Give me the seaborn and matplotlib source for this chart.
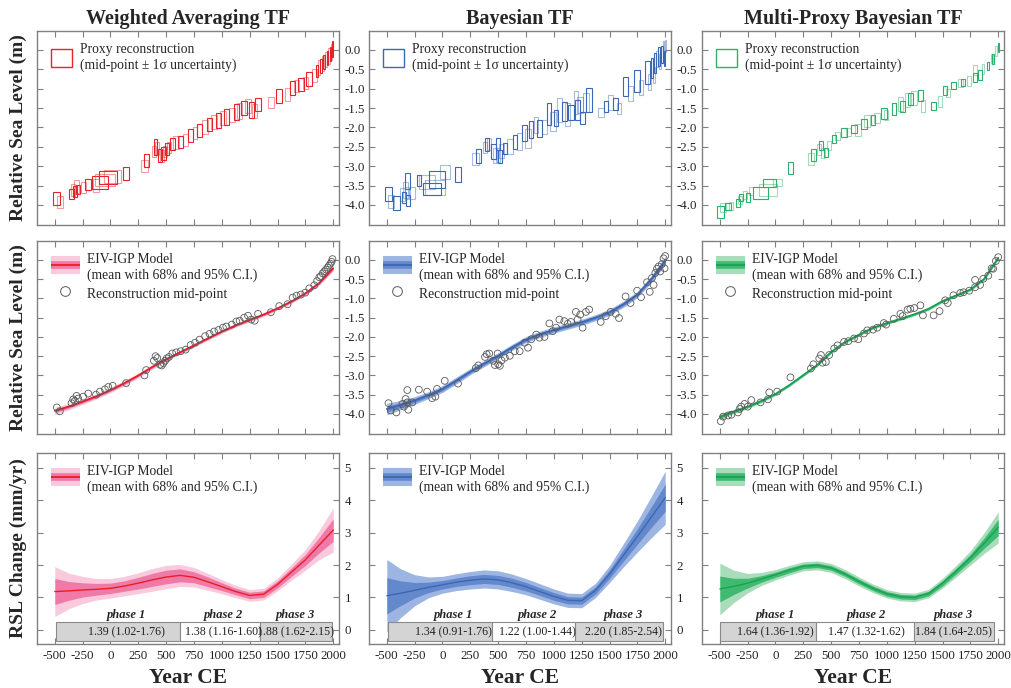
import numpy as np
import pandas as pd
import matplotlib
matplotlib.use('Agg')
import matplotlib.pyplot as plt
import seaborn as sns
from matplotlib.patches import Patch
from matplotlib.lines import Line2D
from matplotlib.legend_handler import HandlerTuple

# ---- proxy reconstructions (mid-point, 1 sigma) ----
wa_age = [-482, -455, -350, -335, -320, -305, -290, -245, -200, -130,
          -95, -50, -20, 20, 140, 305, 320, 390, 405, 420,
          445, 460, 475, 490, 505, 525, 555, 590, 630, 675,
          720, 760, 800, 850, 890, 930, 970, 1010, 1040, 1090,
          1130, 1160, 1200, 1235, 1265, 1295, 1325, 1440, 1515, 1590,
          1635, 1670, 1710, 1750, 1785, 1830, 1855, 1875, 1890, 1905,
          1920, 1935, 1950, 1962, 1975, 1985, 1993]
wa_rsl = [-3.83, -3.93, -3.72, -3.62, -3.66, -3.53, -3.6, -3.55, -3.47, -3.5,
          -3.42, -3.36, -3.3, -3.27, -3.2, -3.0, -2.86, -2.62, -2.5, -2.55,
          -2.72, -2.74, -2.68, -2.62, -2.56, -2.52, -2.43, -2.4, -2.37, -2.33,
          -2.21, -2.15, -2.07, -1.98, -1.92, -1.86, -1.82, -1.76, -1.73, -1.68,
          -1.6, -1.58, -1.5, -1.45, -1.55, -1.58, -1.4, -1.36, -1.2, -1.15,
          -0.98, -0.93, -0.9, -0.85, -0.74, -0.66, -0.55, -0.45, -0.42, -0.35,
          -0.3, -0.25, -0.2, -0.15, -0.1, -0.05, 0.02]
wa_age_err = [30, 25, 20, 18, 20, 20, 18, 22, 25, 30,
              70, 90, 80, 75, 30, 30, 22, 20, 15, 20,
              20, 18, 20, 18, 20, 20, 25, 25, 25, 25,
              25, 20, 25, 25, 20, 25, 25, 25, 20, 25,
              25, 20, 25, 25, 20, 20, 25, 25, 25, 25,
              20, 25, 25, 20, 25, 22, 12, 10, 8, 8,
              8, 7, 7, 6, 6, 5, 4]
wa_rsl_err = [0.17, 0.15, 0.14, 0.15, 0.14, 0.16, 0.12, 0.15, 0.15, 0.16,
              0.17, 0.16, 0.17, 0.16, 0.17, 0.15, 0.17, 0.15, 0.2, 0.17,
              0.17, 0.15, 0.17, 0.15, 0.16, 0.15, 0.16, 0.17, 0.16, 0.15,
              0.17, 0.16, 0.17, 0.18, 0.16, 0.17, 0.2, 0.18, 0.2, 0.18,
              0.2, 0.2, 0.19, 0.18, 0.2, 0.18, 0.17, 0.15, 0.18, 0.18,
              0.18, 0.15, 0.17, 0.16, 0.18, 0.17, 0.16, 0.2, 0.18, 0.2,
              0.18, 0.2, 0.18, 0.2, 0.18, 0.2, 0.2]

by_age = [-485, -464, -414, -360, -346, -331, -316, -316, -307, -271,
          -212, -138, -93, -64, -49, 20, 139, 299, 322, 382,
          397, 420, 456, 471, 495, 500, 515, 530, 560, 604,
          649, 693, 738, 768, 797, 842, 871, 916, 960, 990,
          1020, 1050, 1094, 1124, 1154, 1198, 1213, 1237, 1258, 1288,
          1317, 1421, 1466, 1510, 1555, 1585, 1644, 1688, 1748, 1783,
          1837, 1861, 1881, 1896, 1911, 1926, 1941, 1955, 1970, 1985,
          1994, 2000]
by_rsl = [-3.72, -3.91, -3.96, -3.74, -3.81, -3.61, -3.38, -3.7, -3.89, -3.7,
          -3.37, -3.42, -3.59, -3.55, -3.35, -3.14, -3.21, -2.81, -2.74, -2.52,
          -2.45, -2.43, -2.62, -2.73, -2.43, -2.71, -2.75, -2.61, -2.54, -2.49,
          -2.37, -2.37, -2.15, -2.28, -2.06, -1.94, -2.02, -2.0, -1.65, -1.85,
          -1.76, -1.55, -1.59, -1.66, -1.61, -1.35, -1.55, -1.42, -1.76, -1.35,
          -1.29, -1.61, -1.46, -1.35, -1.4, -1.51, -0.95, -1.12, -0.8, -0.97,
          -0.58, -0.83, -0.47, -0.65, -0.34, -0.23, -0.17, -0.3, -0.11, 0.04,
          -0.22, 0.1]
by_age_err = [30, 28, 30, 20, 18, 20, 20, 18, 18, 20,
              20, 70, 80, 90, 70, 45, 30, 30, 25, 18,
              18, 18, 20, 18, 18, 20, 18, 20, 20, 25,
              20, 25, 20, 25, 20, 20, 25, 20, 18, 25,
              20, 25, 20, 25, 25, 20, 25, 25, 20, 25,
              25, 25, 20, 25, 20, 18, 20, 20, 25, 20,
              22, 15, 12, 10, 9, 8, 8, 7, 6, 6,
              5, 4]
by_rsl_err = [0.17, 0.17, 0.18, 0.17, 0.15, 0.2, 0.2, 0.15, 0.15, 0.16,
              0.15, 0.18, 0.16, 0.2, 0.22, 0.18, 0.2, 0.15, 0.18, 0.15,
              0.17, 0.15, 0.2, 0.2, 0.15, 0.18, 0.16, 0.18, 0.15, 0.2,
              0.18, 0.22, 0.2, 0.25, 0.22, 0.2, 0.22, 0.18, 0.28, 0.25,
              0.2, 0.3, 0.25, 0.3, 0.2, 0.3, 0.25, 0.2, 0.15, 0.25,
              0.3, 0.12, 0.15, 0.2, 0.15, 0.15, 0.25, 0.2, 0.28, 0.2,
              0.3, 0.2, 0.25, 0.2, 0.25, 0.2, 0.25, 0.2, 0.22, 0.2,
              0.2, 0.15]

mp_age = [-491, -470, -426, -396, -337, -322, -308, -278, -249, -217,
          -134, -68, -56, 15, 134, 318, 340, 393, 408, 423,
          452, 482, 527, 557, 616, 654, 705, 743, 795, 824,
          876, 914, 973, 994, 1062, 1122, 1142, 1186, 1211, 1246,
          1301, 1324, 1420, 1473, 1524, 1547, 1598, 1660, 1688, 1740,
          1792, 1792, 1837, 1866, 1911, 1941, 1955, 1979, 2000]
mp_rsl = [-4.19, -4.07, -4.04, -4.02, -3.96, -3.87, -3.81, -3.74, -3.81, -3.64,
          -3.7, -3.62, -3.44, -3.42, -3.05, -2.82, -2.71, -2.56, -2.47, -2.67,
          -2.65, -2.47, -2.3, -2.22, -2.13, -2.11, -2.04, -2.06, -1.91, -1.83,
          -1.81, -1.76, -1.64, -1.68, -1.53, -1.4, -1.46, -1.29, -1.27, -1.25,
          -1.18, -1.44, -1.44, -1.33, -1.05, -1.12, -0.92, -0.86, -0.84, -0.8,
          -0.71, -0.52, -0.65, -0.49, -0.41, -0.22, -0.23, -0.03, 0.07]
mp_age_err = [30, 25, 25, 18, 18, 18, 18, 18, 20, 18,
              70, 80, 60, 40, 25, 25, 25, 20, 18, 18,
              18, 18, 20, 20, 25, 25, 25, 25, 25, 25,
              20, 25, 25, 20, 20, 25, 25, 25, 25, 25,
              20, 18, 20, 18, 20, 18, 20, 20, 18, 20,
              18, 18, 14, 10, 8, 8, 7, 6, 5]
mp_rsl_err = [0.15, 0.12, 0.08, 0.1, 0.1, 0.1, 0.1, 0.1, 0.12, 0.1,
              0.15, 0.15, 0.1, 0.08, 0.15, 0.16, 0.15, 0.14, 0.12, 0.13,
              0.12, 0.12, 0.1, 0.1, 0.12, 0.1, 0.1, 0.15, 0.12, 0.15,
              0.12, 0.12, 0.15, 0.12, 0.15, 0.18, 0.15, 0.18, 0.15, 0.18,
              0.15, 0.15, 0.1, 0.15, 0.12, 0.1, 0.1, 0.1, 0.08, 0.12,
              0.12, 0.12, 0.12, 0.12, 0.1, 0.12, 0.12, 0.12, 0.12]

# ---- EIV-IGP model output ----
years = [-500, -375, -250, -125, 0, 125, 250, 375, 500, 625, 750,
         875, 1000, 1125, 1250, 1375, 1500, 1625, 1750, 1875, 2000]

wa_mean = [-3.92, -3.81, -3.68, -3.54, -3.38, -3.20, -3.00, -2.78, -2.58, -2.40, -2.22,
           -2.04, -1.86, -1.70, -1.56, -1.42, -1.26, -1.08, -0.87, -0.60, -0.22]
wa_ci95 = [0.10, 0.08, 0.07, 0.07, 0.07, 0.07, 0.06, 0.06, 0.05, 0.05, 0.05,
           0.05, 0.05, 0.05, 0.05, 0.05, 0.05, 0.05, 0.05, 0.06, 0.07]
wa_ci68 = [0.05, 0.04, 0.035, 0.035, 0.035, 0.035, 0.03, 0.03, 0.025, 0.025, 0.025,
           0.025, 0.025, 0.025, 0.025, 0.025, 0.025, 0.025, 0.025, 0.03, 0.035]
by_mean = [-3.87, -3.77, -3.65, -3.51, -3.35, -3.13, -2.90, -2.69, -2.49, -2.27, -2.07,
           -1.93, -1.82, -1.72, -1.62, -1.50, -1.36, -1.15, -0.90, -0.50, -0.02]
by_ci95 = [0.15, 0.12, 0.10, 0.09, 0.09, 0.09, 0.08, 0.08, 0.08, 0.08, 0.08,
           0.08, 0.08, 0.08, 0.08, 0.08, 0.08, 0.08, 0.08, 0.09, 0.11]
by_ci68 = [0.08, 0.06, 0.05, 0.045, 0.045, 0.045, 0.04, 0.04, 0.04, 0.04, 0.04,
           0.04, 0.04, 0.04, 0.04, 0.04, 0.04, 0.04, 0.04, 0.045, 0.055]
mp_mean = [-4.07, -3.94, -3.81, -3.66, -3.48, -3.25, -2.99, -2.73, -2.39, -2.13, -1.94,
           -1.76, -1.64, -1.53, -1.41, -1.27, -1.07, -0.92, -0.77, -0.49, 0.05]
mp_ci95 = [0.08, 0.06, 0.05, 0.05, 0.04, 0.04, 0.04, 0.04, 0.04, 0.04, 0.04,
           0.04, 0.04, 0.04, 0.04, 0.04, 0.04, 0.04, 0.04, 0.04, 0.05]
mp_ci68 = [0.04, 0.03, 0.025, 0.025, 0.02, 0.02, 0.02, 0.02, 0.02, 0.02, 0.02,
           0.02, 0.02, 0.02, 0.02, 0.02, 0.02, 0.02, 0.02, 0.02, 0.025]

wa_rate = [1.18, 1.20, 1.23, 1.25, 1.28, 1.35, 1.44, 1.54, 1.63, 1.68, 1.62,
           1.48, 1.33, 1.18, 1.06, 1.10, 1.40, 1.78, 2.16, 2.62, 3.08]
wa_rate95 = [0.77, 0.55, 0.42, 0.33, 0.30, 0.30, 0.32, 0.35, 0.36, 0.34, 0.30,
             0.26, 0.22, 0.19, 0.18, 0.18, 0.20, 0.25, 0.32, 0.45, 0.68]
wa_rate68 = [0.40, 0.29, 0.22, 0.18, 0.16, 0.16, 0.18, 0.20, 0.21, 0.20, 0.17,
             0.15, 0.12, 0.10, 0.10, 0.10, 0.11, 0.13, 0.17, 0.24, 0.35]
by_rate = [1.05, 1.13, 1.22, 1.31, 1.39, 1.47, 1.53, 1.57, 1.54, 1.45, 1.33,
           1.18, 1.03, 0.91, 0.90, 1.22, 1.72, 2.30, 2.88, 3.48, 4.08]
by_rate95 = [1.12, 0.75, 0.48, 0.32, 0.26, 0.26, 0.27, 0.28, 0.28, 0.27, 0.25,
             0.24, 0.23, 0.22, 0.22, 0.22, 0.26, 0.36, 0.48, 0.64, 0.82]
by_rate68 = [0.56, 0.38, 0.24, 0.16, 0.13, 0.13, 0.14, 0.14, 0.14, 0.14, 0.13,
             0.12, 0.12, 0.11, 0.11, 0.11, 0.13, 0.18, 0.24, 0.32, 0.42]
mp_rate = [1.26, 1.34, 1.44, 1.57, 1.70, 1.84, 1.96, 1.99, 1.91, 1.72, 1.49,
           1.28, 1.11, 1.02, 1.00, 1.12, 1.44, 1.82, 2.22, 2.68, 3.16]
mp_rate95 = [0.80, 0.50, 0.30, 0.20, 0.16, 0.15, 0.14, 0.14, 0.14, 0.14, 0.14,
             0.13, 0.13, 0.13, 0.13, 0.13, 0.15, 0.18, 0.22, 0.32, 0.48]
mp_rate68 = [0.40, 0.25, 0.15, 0.10, 0.08, 0.08, 0.07, 0.07, 0.07, 0.07, 0.07,
             0.07, 0.07, 0.07, 0.07, 0.07, 0.08, 0.09, 0.11, 0.16, 0.25]

# ---- phase averages ----
wa_phase_edges = [-490, 620, 1340, 1985]
by_phase_edges = [-485, 441, 1190, 1980]
mp_phase_edges = [-494, 367, 1246, 1962]
wa_phase_text = ['1.39 (1.02-1.76)', '1.38 (1.16-1.60)', '1.88 (1.62-2.15)']
by_phase_text = ['1.34 (0.91-1.76)', '1.22 (1.00-1.44)', '2.20 (1.85-2.54)']
mp_phase_text = ['1.64 (1.36-1.92)', '1.47 (1.32-1.62)', '1.84 (1.64-2.05)']
wa_phase_x = [140, 1013, 1664]
by_phase_x = [100, 857, 1624]
mp_phase_x = [0, 817, 1600]
phase_names = ['phase 1', 'phase 2', 'phase 3']

titles = ['Weighted Averaging TF', 'Bayesian TF', 'Multi-Proxy Bayesian TF']

sns.set_style('ticks')
plt.rcParams['font.family'] = ['Liberation Serif', 'DejaVu Serif']
plt.rcParams['axes.unicode_minus'] = False

W, H = 1011, 688
fig = plt.figure(figsize=(W / 100, H / 100), dpi=100)

col_left = [37, 369, 702]
col_w = 302
row_top = [31, 241, 453]
row_h = [194, 193, 191]

palette = [
    dict(line='#ec1c24', b68='#ef7aa8', b95='#f9c9dd', box='#e8232b'),
    dict(line='#3c67b4', b68='#6488cc', b95='#9db5e2', box='#3a68b7'),
    dict(line='#18a254', b68='#3fba70', b95='#a9dcbb', box='#2cb06a'),
]

proxies = [(wa_age, wa_rsl, wa_age_err, wa_rsl_err),
           (by_age, by_rsl, by_age_err, by_rsl_err),
           (mp_age, mp_rsl, mp_age_err, mp_rsl_err)]
models = [(wa_mean, wa_ci68, wa_ci95), (by_mean, by_ci68, by_ci95), (mp_mean, mp_ci68, mp_ci95)]
rates = [(wa_rate, wa_rate68, wa_rate95), (by_rate, by_rate68, by_rate95), (mp_rate, mp_rate68, mp_rate95)]
phases = [(wa_phase_edges, wa_phase_text, wa_phase_x),
          (by_phase_edges, by_phase_text, by_phase_x),
          (mp_phase_edges, mp_phase_text, mp_phase_x)]

xt = list(range(-500, 2001, 250))
yrs = np.array(years)
leg_kw = dict(loc='upper left', bbox_to_anchor=(0.02, 0.98), frameon=False, fontsize=9.8,
              handleheight=1.7, borderaxespad=0.2, labelspacing=0.2)


def make_ax(c, r):
    left = col_left[c] / W
    bottom = 1 - (row_top[r] + row_h[r]) / H
    ax = fig.add_axes([left, bottom, col_w / W, row_h[r] / H])
    ax.set_xlim(-660, 2052)
    for s in ax.spines.values():
        s.set_color('#808080')
        s.set_linewidth(1.0)
    ax.set_xticks(xt)
    ax.yaxis.tick_right()
    ax.tick_params(axis='both', which='both', direction='in', length=4, width=0.8,
                   color='#808080', labelsize=9.3, labelcolor='#222222',
                   top=True, bottom=True, left=True, right=True,
                   labelleft=False, labelright=(c < 2), pad=4)
    if r < 2:
        ax.tick_params(axis='x', labelbottom=False)
        ax.set_ylim(-4.52, 0.49)
        ax.set_yticks(np.arange(-4.0, 0.01, 0.5))
        ax.set_yticklabels(['%.1f' % v for v in np.arange(-4.0, 0.01, 0.5)])
    else:
        ax.set_ylim(-0.44, 5.46)
        ax.set_yticks(range(0, 6))
        ax.set_xticklabels([str(v) for v in xt])
    return ax


def model_handle(p):
    return (Line2D([], [], color=p['b95'], lw=13, solid_capstyle='butt'),
            Line2D([], [], color=p['b68'], lw=5.5, solid_capstyle='butt'),
            Line2D([], [], color=p['line'], lw=1.3, solid_capstyle='butt'))


for c in range(3):
    p = palette[c]
    age, rsl, dage, drsl = [np.array(a, dtype=float) for a in proxies[c]]

    # top row: proxy boxes
    ax = make_ax(c, 0)
    for k, alpha in [(0, 1.0), (1, 0.45)]:
        sel = slice(k, None, 2)
        ax.bar(age[sel], 2 * drsl[sel], bottom=rsl[sel] - drsl[sel], width=2 * dage[sel],
               fill=False, edgecolor=p['box'], linewidth=0.8, alpha=alpha)
    ax.set_title(titles[c], fontsize=14.5, fontweight='bold', pad=5)
    h = Patch(facecolor='none', edgecolor=p['box'], linewidth=1.0)
    ax.legend([h], ['Proxy reconstruction\n(mid-point \u00b1 1\u03c3 uncertainty)'],
              handlelength=1.5, handletextpad=0.6, **leg_kw)

    # middle row: model with mid-points
    ax = make_ax(c, 1)
    mean, c68, c95 = [np.array(a) for a in models[c]]
    ax.fill_between(yrs, mean - c95, mean + c95, color=p['b95'], lw=0, zorder=1)
    ax.fill_between(yrs, mean - c68, mean + c68, color=p['b68'], lw=0, zorder=2)
    sns.lineplot(x=yrs, y=mean, ax=ax, color=p['line'], lw=1.3, zorder=3)
    sns.scatterplot(x=age, y=rsl, ax=ax, marker='o', s=24, fc='none', ec='#5a5a5a',
                    linewidth=0.6, zorder=4)
    circ = Line2D([], [], ls='none', marker='o', markersize=7, mfc='none', mec='#5a5a5a', mew=0.7)
    ax.legend([model_handle(p), circ],
              ['EIV-IGP Model\n(mean with 68% and 95% C.I.)', 'Reconstruction mid-point'],
              handler_map={tuple: HandlerTuple(ndivide=1, pad=0)},
              handlelength=2.1, handletextpad=0.5, **leg_kw)
    ax.set_xlabel('')
    ax.set_ylabel('')

    # bottom row: rate of change
    ax = make_ax(c, 2)
    rate, r68, r95 = [np.array(a) for a in rates[c]]
    ax.fill_between(yrs, rate - r95, rate + r95, color=p['b95'], lw=0, zorder=1)
    ax.fill_between(yrs, rate - r68, rate + r68, color=p['b68'], lw=0, zorder=2)
    sns.lineplot(x=yrs, y=rate, ax=ax, color=p['line'], lw=1.0, zorder=3)
    edges, texts, tx = phases[c]
    edges = np.array(edges, dtype=float)
    ax.barh(y=-0.065, width=np.diff(edges), left=edges[:-1], height=0.59,
            color=['#d4d4d4', 'white', '#d4d4d4'], edgecolor='#8a8a8a', linewidth=0.8,
            zorder=4)
    for name, t, x in zip(phase_names, texts, tx):
        ax.text(x, -0.07, t, ha='center', va='center', fontsize=8.6, color='#222222', zorder=5)
        ax.text(x, 0.47, name, ha='center', va='center', fontsize=9,
                fontstyle='italic', fontweight='bold', zorder=5)
    ax.legend([model_handle(p)], ['EIV-IGP Model\n(mean with 68% and 95% C.I.)'],
              handler_map={tuple: HandlerTuple(ndivide=1, pad=0)},
              handlelength=2.1, handletextpad=0.5, **leg_kw)
    ax.set_xlabel('')
    ax.set_ylabel('')

    fig.text((col_left[c] + col_w / 2) / W, 1 - 678 / H, 'Year CE', ha='center', va='center',
             fontsize=15.5, fontweight='bold')

ylabels = ['Relative Sea Level (m)', 'Relative Sea Level (m)', 'RSL Change (mm/yr)']
for r in range(3):
    fig.text(18 / W, 1 - (row_top[r] + row_h[r] / 2) / H, ylabels[r], rotation=90,
             ha='center', va='center', fontsize=14, fontweight='bold')

fig.savefig('out.png', dpi=100)
